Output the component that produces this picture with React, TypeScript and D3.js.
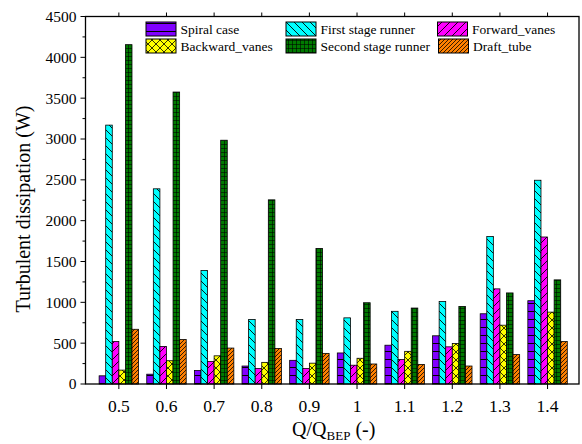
import React from "react";
import * as d3 from "d3";

const categories = [0.5, 0.6, 0.7, 0.8, 0.9, 1.0, 1.1, 1.2, 1.3, 1.4];
const categoryLabels = ["0.5", "0.6", "0.7", "0.8", "0.9", "1", "1.1", "1.2", "1.3", "1.4"];
const seriesNames = ["Spiral case", "First stage runner", "Forward_vanes", "Backward_vanes", "Second stage runner", "Draft_tube"];
const spiralCase = [100, 120, 165, 220, 290, 380, 475, 590, 860, 1020];
const firstStageRunner = [3170, 2390, 1390, 790, 790, 810, 890, 1010, 1805, 2495];
const forwardVanes = [520, 460, 275, 190, 190, 230, 300, 455, 1165, 1800];
const backwardVanes = [170, 285, 345, 265, 255, 315, 400, 495, 720, 880];
const secondStageRunner = [4155, 3575, 2985, 2255, 1660, 995, 930, 950, 1115, 1275];
const draftTube = [670, 545, 440, 435, 375, 245, 240, 220, 360, 520];
const yTicks = [0, 500, 1000, 1500, 2000, 2500, 3000, 3500, 4000, 4500];

const seriesValues = [spiralCase, firstStageRunner, forwardVanes, backwardVanes, secondStageRunner, draftTube];
const fills = ["#8000ff", "#00ffff", "#ff00ff", "#ffff00", "#007a00", "#ff8000"];
const patternIds = ["pSpiral", "pFirst", "pForward", "pBackward", "pSecond", "pDraft"];

const W = 582;
const H = 444;
const left = 85.5;
const right = 579;
const top = 16.5;
const bottom = 384;
const font = '"Liberation Serif", monospace';
const ts: React.CSSProperties = { fontFamily: font };

export default function App() {
  const x = d3.scaleLinear().domain([0.43, 1.466]).range([left, right]);
  const y = d3.scaleLinear().domain([0, 4500]).range([bottom, top]);
  const step = x(0.6) - x(0.5);
  const bw = step * 0.138;
  const minorTicks = d3.range(250, 4500, 500);

  const legendItems = [
    { i: 0, lx: 146, ly: 22 },
    { i: 1, lx: 286, ly: 22 },
    { i: 2, lx: 437.5, ly: 22 },
    { i: 3, lx: 146, ly: 39 },
    { i: 4, lx: 286, ly: 39 },
    { i: 5, lx: 438.5, ly: 39 },
  ];

  return (
    <svg width={W} height={H} style={{ position: "absolute", left: 0, top: 0, background: "#fff" }}>
      <defs>
        <pattern id="pSpiral" patternUnits="userSpaceOnUse" width="8" height="8">
          <rect width="8" height="8" fill={fills[0]} />
          <line x1="0" y1="7.5" x2="8" y2="7.5" stroke="#000" strokeWidth="1" />
        </pattern>
        <pattern id="pFirst" patternUnits="userSpaceOnUse" width="8" height="8">
          <rect width="8" height="8" fill={fills[1]} />
          <path d="M-2,-2 L10,10 M-2,6 L2,10 M6,-2 L10,2" stroke="#000" strokeWidth="0.9" />
        </pattern>
        <pattern id="pForward" patternUnits="userSpaceOnUse" width="8" height="8">
          <rect width="8" height="8" fill={fills[2]} />
          <path d="M-2,10 L10,-2 M-2,2 L2,-2 M6,10 L10,6" stroke="#000" strokeWidth="0.9" />
        </pattern>
        <pattern id="pBackward" patternUnits="userSpaceOnUse" width="8" height="8">
          <rect width="8" height="8" fill={fills[3]} />
          <path d="M-2,-2 L10,10 M-2,6 L2,10 M6,-2 L10,2 M-2,10 L10,-2 M-2,2 L2,-2 M6,10 L10,6" stroke="#000" strokeWidth="0.8" />
        </pattern>
        <pattern id="pSecond" patternUnits="userSpaceOnUse" width="4" height="4">
          <rect width="4" height="4" fill={fills[4]} />
          <path d="M0,0.3 L4,0.3 M0.3,0 L0.3,4" stroke="#000" strokeWidth="0.7" />
        </pattern>
        <pattern id="pDraft" patternUnits="userSpaceOnUse" width="4" height="4">
          <rect width="4" height="4" fill={fills[5]} />
          <path d="M-1,5 L5,-1 M-1,1 L1,-1 M3,5 L5,3" stroke="#000" strokeWidth="0.8" />
        </pattern>
      </defs>

      {categories.map((c, ci) =>
        seriesValues.map((vals, si) => {
          const x0 = x(c) - 3 * bw + si * bw;
          const y0 = y(vals[ci]);
          return (
            <rect
              key={`${ci}-${si}`}
              x={x0}
              y={y0}
              width={bw}
              height={bottom - y0}
              fill={`url(#${patternIds[si]})`}
              stroke="#000"
              strokeWidth={0.8}
            />
          );
        })
      )}

      <rect x={left} y={top} width={right - left} height={bottom - top} fill="none" stroke="#000" strokeWidth={1.3} />

      {yTicks.map((t) => (
        <g key={t}>
          <line x1={left - 5} x2={left} y1={y(t)} y2={y(t)} stroke="#000" strokeWidth={1} />
          <text x={left - 9} y={y(t)} dy="0.35em" textAnchor="end" fontSize={15.5} style={ts}>
            {t}
          </text>
        </g>
      ))}
      {minorTicks.map((t) => (
        <line key={t} x1={left - 3} x2={left} y1={y(t)} y2={y(t)} stroke="#000" strokeWidth={1} />
      ))}

      {categories.map((c, i) => (
        <g key={c}>
          <line x1={x(c)} x2={x(c)} y1={bottom} y2={bottom + 5} stroke="#000" strokeWidth={1} />
          <line x1={x(c)} x2={x(c)} y1={top} y2={top - 4} stroke="#000" strokeWidth={1} />
          <text x={x(c)} y={411.5} textAnchor="middle" fontSize={17.5} style={ts}>
            {categoryLabels[i]}
          </text>
        </g>
      ))}

      <text x={(left + right) / 2 + 1.5} y={436} textAnchor="middle" fontSize={20} style={ts}>
        Q/Q<tspan fontSize={13} dy={4}>BEP</tspan>
        <tspan dy={-4}> (-)</tspan>
      </text>
      <text transform={`translate(30,209) rotate(-90)`} textAnchor="middle" fontSize={20} style={ts}>
        Turbulent dissipation (W)
      </text>

      {legendItems.map(({ i, lx, ly }) => (
        <g key={i}>
          <rect x={lx} y={ly} width={30} height={14} fill={`url(#${patternIds[i]})`} stroke="#000" strokeWidth={1} />
          <text x={lx + 34.5} y={ly + 11.5} fontSize={13.5} style={ts}>
            {seriesNames[i]}
          </text>
        </g>
      ))}
    </svg>
  );
}
